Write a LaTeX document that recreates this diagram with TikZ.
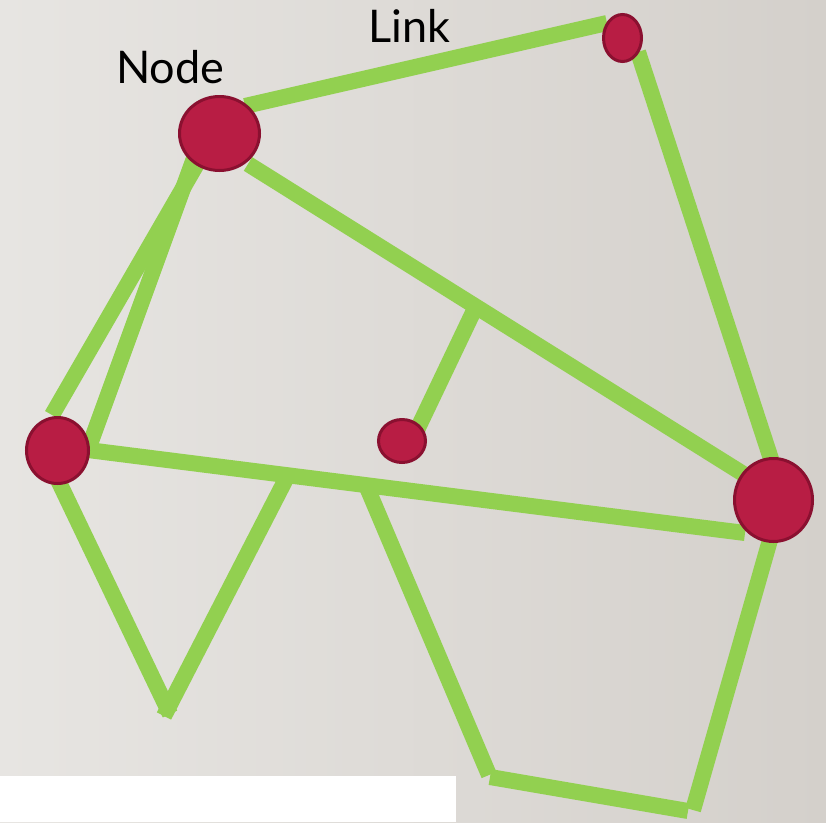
\documentclass[tikz,border=0pt]{standalone}
\usepackage{fontspec}
\setmainfont{Lato}
\usetikzlibrary{shapes.geometric}
\definecolor{bgA}{HTML}{E7E5E2}
\definecolor{bgB}{HTML}{D4D0CB}
\definecolor{linkgreen}{HTML}{92D050}
\definecolor{nodefill}{HTML}{B81D44}
\definecolor{nodeline}{HTML}{8A1030}
\begin{document}
\begin{tikzpicture}[x=1pt,y=-1pt,
  linkline/.style={draw=linkgreen,line width=16pt},
  netnode/.style={ellipse,fill=nodefill,draw=nodeline,line width=3pt,inner sep=0pt},
  lbl/.style={font=\fontsize{45}{50}\selectfont,text=black,inner sep=0pt,anchor=base west}]
\useasboundingbox (0,0) rectangle (826,822);
\shade[left color=bgA,right color=bgB] (0,0) rectangle (826,822);
\fill[white] (0,776) rectangle (456,822);
% link end points
\coordinate (a1) at (245,106); \coordinate (a2) at (607,23);
\coordinate (b1) at (638,52);  \coordinate (b2) at (772,462);
\coordinate (c1) at (248,164); \coordinate (c2) at (745,475);
\coordinate (d1) at (205,150); \coordinate (d2) at (52,415);
\coordinate (e1) at (197,150); \coordinate (e2) at (89,447);
\coordinate (f1) at (88,450);  \coordinate (f2) at (745,533);
\coordinate (g1) at (478,302); \coordinate (g2) at (417,430);
\coordinate (h1) at (57,478);  \coordinate (h2) at (170,714);
\coordinate (i1) at (288,475); \coordinate (i2) at (164,716);
\coordinate (j1) at (366,485); \coordinate (j2) at (489,775);
\coordinate (k1) at (490,777); \coordinate (k2) at (688,811);
\coordinate (l1) at (770,540); \coordinate (l2) at (693,810);
\foreach \s in {a,b,c,d,e,f,g,h,i,j,k,l}{\draw[linkline] (\s1) -- (\s2);}
% nodes
\node[netnode,minimum width=80pt,minimum height=74pt] (top) at (219.5,133.5) {};
\node[netnode,minimum width=38pt,minimum height=47pt] (topright) at (622.5,38) {};
\node[netnode,minimum width=62pt,minimum height=66pt] (left) at (57.5,450.5) {};
\node[netnode,minimum width=47pt,minimum height=43pt] (mid) at (402,441) {};
\node[netnode,minimum width=78pt,minimum height=83pt] (right) at (773.5,500) {};
% labels
\node[lbl] (nodelbl) at (116,83) {Node};
\node[lbl] (linklbl) at (368,42) {Link};
\end{tikzpicture}
\end{document}
